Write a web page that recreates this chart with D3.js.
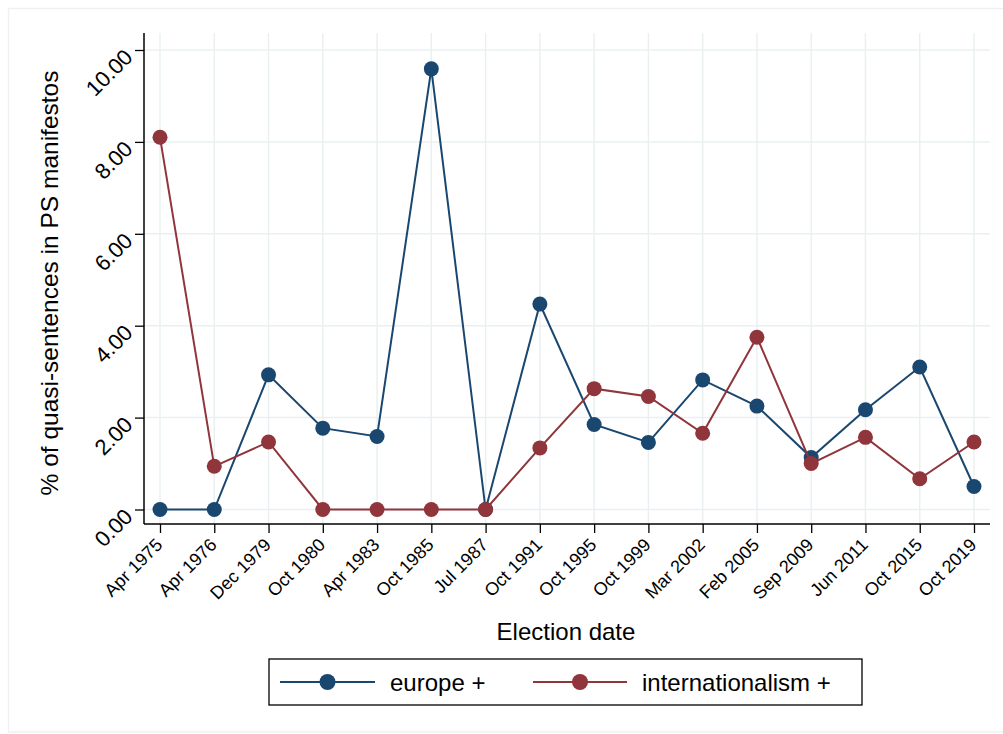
<!DOCTYPE html>
<html>
<head>
<meta charset="utf-8">
<script src="https://cdn.jsdelivr.net/npm/d3@7"></script>
<style>
  html, body { margin: 0; padding: 0; background: #fff; }
  svg { display: block; font-family: "Liberation Sans", Arial, Helvetica, sans-serif; }
</style>
</head>
<body>
<svg id="chart" width="1003" height="734"></svg>
<script>
// Election dates (x categories)
const elections = ["Apr 1975", "Apr 1976", "Dec 1979", "Oct 1980", "Apr 1983", "Oct 1985",
  "Jul 1987", "Oct 1991", "Oct 1995", "Oct 1999", "Mar 2002", "Feb 2005",
  "Sep 2009", "Jun 2011", "Oct 2015", "Oct 2019"];

// % of quasi-sentences, per election
const europePlus = [0, 0, 2.93, 1.77, 1.59, 9.59, 0, 4.47, 1.85, 1.46, 2.82, 2.25, 1.13, 2.17, 3.10, 0.50];
const internationalismPlus = [8.10, 0.94, 1.47, 0, 0, 0, 0, 1.34, 2.63, 2.46, 1.66, 3.75, 1.00, 1.57, 0.67, 1.47];

// Y axis ticks
const yTicks = [0, 2, 4, 6, 8, 10];

const seriesNames = ["europe +", "internationalism +"];
const seriesColors = ["#1a476f", "#90353b"];

const svg = d3.select("#chart");
const W = 1003, H = 734;

// outer graph region frame
svg.append("rect")
  .attr("x", 8.5).attr("y", 8.5)
  .attr("width", W).attr("height", H - 9 - 1.5)
  .attr("fill", "#fff")
  .attr("stroke", "#edf1f3")
  .attr("stroke-width", 1.5);

const plot = { left: 144, right: 990, top: 33, bottom: 524 };

const x = d3.scalePoint().domain(elections).range([160, 974]);
const y = d3.scaleLinear().domain([0, 10]).range([509.5, 50]);

const gridColor = "#eaf0f2";

// gridlines
const g = svg.append("g");
g.selectAll("line.vg").data(elections).join("line")
  .attr("x1", d => x(d)).attr("x2", d => x(d))
  .attr("y1", plot.top).attr("y2", plot.bottom)
  .attr("stroke", gridColor).attr("stroke-width", 1.5);
g.selectAll("line.hg").data(yTicks).join("line")
  .attr("x1", plot.left).attr("x2", plot.right)
  .attr("y1", d => y(d)).attr("y2", d => y(d))
  .attr("stroke", gridColor).attr("stroke-width", 1.5);

// axes
const yAxis = svg.append("g")
  .attr("transform", `translate(${plot.left},0)`)
  .call(d3.axisLeft(y).tickValues(yTicks).tickSize(9).tickSizeOuter(0).tickFormat(d3.format(".2f")));
yAxis.select(".domain").remove();
yAxis.append("line")
  .attr("x1", 0).attr("x2", 0).attr("y1", plot.top).attr("y2", plot.bottom)
  .attr("stroke", "#000").attr("stroke-width", 1.5);
yAxis.selectAll(".tick line").attr("stroke", "#000").attr("stroke-width", 1.3);
yAxis.selectAll(".tick text")
  .attr("font-size", 22)
  .attr("fill", "#000")
  .attr("text-anchor", "end")
  .attr("x", 0).attr("dy", 0)
  .attr("transform", "translate(-10,8) rotate(-45)");

const xAxis = svg.append("g")
  .attr("transform", `translate(0,${plot.bottom})`)
  .call(d3.axisBottom(x).tickSize(9).tickSizeOuter(0));
xAxis.select(".domain").remove();
xAxis.append("line")
  .attr("x1", plot.left).attr("x2", plot.right).attr("y1", 0).attr("y2", 0)
  .attr("stroke", "#000").attr("stroke-width", 1.5);
xAxis.selectAll(".tick line").attr("stroke", "#000").attr("stroke-width", 1.3);
xAxis.selectAll(".tick text")
  .attr("font-size", 18)
  .attr("fill", "#000")
  .attr("text-anchor", "end")
  .attr("y", 0).attr("dy", 0)
  .attr("transform", "translate(3,22) rotate(-45)");

// axis titles
svg.append("text")
  .attr("x", 566).attr("y", 640)
  .attr("text-anchor", "middle")
  .attr("font-size", 24)
  .text("Election date");
svg.append("text")
  .attr("transform", "translate(58,283) rotate(-90)")
  .attr("text-anchor", "middle")
  .attr("font-size", 24.5)
  .text("% of quasi-sentences in PS manifestos");

// series
const series = [europePlus, internationalismPlus];
const line = d3.line().x((d, i) => x(elections[i])).y(d => y(d));
series.forEach((vals, si) => {
  const sg = svg.append("g");
  sg.append("path")
    .datum(vals)
    .attr("d", line)
    .attr("fill", "none")
    .attr("stroke", seriesColors[si])
    .attr("stroke-width", 2);
  sg.selectAll("circle").data(vals).join("circle")
    .attr("cx", (d, i) => x(elections[i]))
    .attr("cy", d => y(d))
    .attr("r", 7.5)
    .attr("fill", seriesColors[si]);
});

// legend
const lg = svg.append("g");
lg.append("rect")
  .attr("x", 269).attr("y", 659).attr("width", 593).attr("height", 46)
  .attr("fill", "#fff").attr("stroke", "#000").attr("stroke-width", 1.3);
const legendItems = [
  { x0: 280, x1: 375, tx: 390 },
  { x0: 533, x1: 627, tx: 642 }
];
legendItems.forEach((it, i) => {
  lg.append("line")
    .attr("x1", it.x0).attr("x2", it.x1).attr("y1", 682).attr("y2", 682)
    .attr("stroke", seriesColors[i]).attr("stroke-width", 2);
  lg.append("circle")
    .attr("cx", (it.x0 + it.x1) / 2).attr("cy", 682).attr("r", 8)
    .attr("fill", seriesColors[i]);
  lg.append("text")
    .attr("x", it.tx).attr("y", 691)
    .attr("font-size", 24)
    .text(seriesNames[i]);
});
</script>
</body>
</html>
